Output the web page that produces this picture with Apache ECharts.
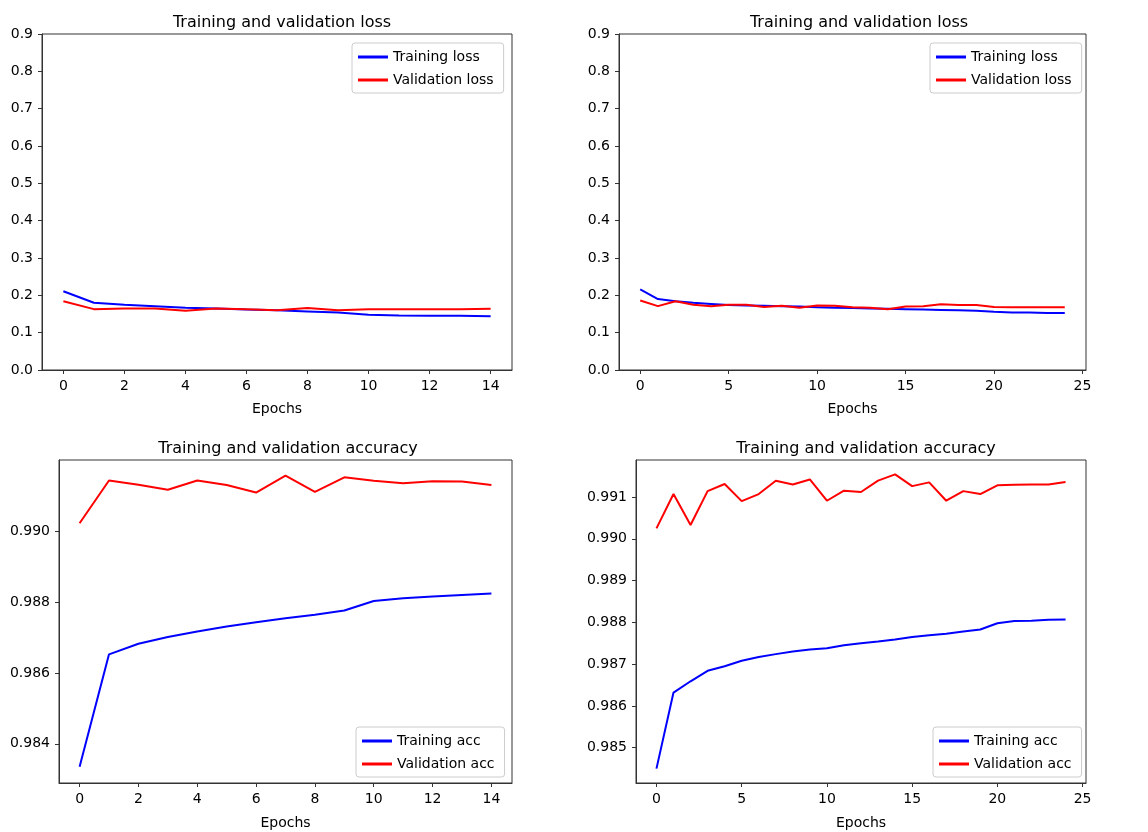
<!DOCTYPE html>
<html>
<head>
<meta charset="utf-8">
<script src="https://cdn.jsdelivr.net/npm/echarts@6/dist/echarts.min.js"></script>
<style>
html, body { margin: 0; padding: 0; background: #fff; }
#main { width: 1148px; height: 832px; }
</style>
</head>
<body>
<div id="main"></div>
<script>
// epochs
var epochs15 = [0,1,2,3,4,5,6,7,8,9,10,11,12,13,14];
var epochs25 = [0,1,2,3,4,5,6,7,8,9,10,11,12,13,14,15,16,17,18,19,20,21,22,23,24];

// loss, 15 epochs
var trainLoss15 = [0.211,0.180,0.175,0.171,0.167,0.165,0.162,0.160,0.157,0.154,0.148,0.146,0.145,0.145,0.144];
var valLoss15   = [0.184,0.163,0.165,0.165,0.159,0.165,0.163,0.160,0.166,0.160,0.163,0.163,0.163,0.163,0.164];

// loss, 25 epochs
var trainLoss25 = [0.216,0.190,0.184,0.180,0.177,0.174,0.173,0.172,0.171,0.170,0.168,0.167,0.166,0.165,0.164,
                   0.163,0.162,0.161,0.160,0.159,0.156,0.154,0.154,0.153,0.153];
var valLoss25   = [0.186,0.171,0.184,0.175,0.171,0.175,0.175,0.169,0.172,0.167,0.173,0.172,0.168,0.167,0.163,
                   0.170,0.171,0.176,0.174,0.174,0.169,0.168,0.168,0.168,0.168];

// accuracy, 15 epochs
var trainAcc15 = [0.98335,0.98653,0.98683,0.98702,0.98718,0.98732,0.98744,0.98755,0.98765,0.98777,
                  0.98804,0.98812,0.98817,0.98821,0.98825];
var valAcc15   = [0.99024,0.99145,0.99133,0.99119,0.99145,0.99132,0.99111,0.99159,0.99113,0.99154,
                  0.99144,0.99137,0.99143,0.99142,0.99132];

// accuracy, 25 epochs
var trainAcc25 = [0.98450,0.98632,0.98659,0.98684,0.98695,0.98708,0.98717,0.98724,0.98730,0.98735,
                  0.98738,0.98745,0.98750,0.98754,0.98759,0.98765,0.98769,0.98773,0.98778,0.98783,
                  0.98798,0.98803,0.98804,0.98806,0.98807];
var valAcc25   = [0.99025,0.99107,0.99033,0.99114,0.99131,0.99090,0.99107,0.99139,0.99130,0.99142,
                  0.99091,0.99115,0.99112,0.99139,0.99154,0.99126,0.99135,0.99091,0.99114,0.99107,
                  0.99128,0.99129,0.99130,0.99130,0.99136];

// tick labels
var xTicks15 = [0,2,4,6,8,10,12,14];
var xTicks25 = [0,5,10,15,20,25];
var lossTicks = [0,0.1,0.2,0.3,0.4,0.5,0.6,0.7,0.8,0.9];
var accTicks15 = [0.984,0.986,0.988,0.990];
var accTicks25 = [0.985,0.986,0.987,0.988,0.989,0.990,0.991];

var FONT = 'DejaVu Sans';

function pairs(xs, ys) {
    return xs.map(function(x, i) { return [x, ys[i]]; });
}

function xAxisCfg(idx, min, max, ticks, gap) {
    return {
        type: 'value', gridIndex: idx, min: min, max: max,
        name: 'Epochs', nameLocation: 'middle', nameGap: gap,
        nameTextStyle: { color: '#000', fontSize: 14, fontFamily: FONT },
        axisLine: { show: true, onZero: false, lineStyle: { color: '#333' } },
        axisTick: { show: true, length: 4, lineStyle: { color: '#333' }, customValues: ticks },
        axisLabel: { color: '#000', fontSize: 14, fontFamily: FONT, margin: 9, customValues: ticks,
                     formatter: function(v) { return String(v); } },
        splitLine: { show: false }
    };
}

function yAxisCfg(idx, min, max, ticks, digits) {
    return {
        type: 'value', gridIndex: idx, min: min, max: max,
        axisLine: { show: true, onZero: false, lineStyle: { color: '#333' } },
        axisTick: { show: true, length: 4, lineStyle: { color: '#333' }, customValues: ticks },
        axisLabel: { color: '#000', fontSize: 14, fontFamily: FONT, margin: 9, customValues: ticks,
                     formatter: function(v) { return v.toFixed(digits); } },
        splitLine: { show: false }
    };
}

function lineSeries(name, idx, data, color) {
    return {
        name: name, type: 'line', xAxisIndex: idx, yAxisIndex: idx,
        data: data, symbol: 'none', animation: false,
        lineStyle: { color: color, width: 2 }, itemStyle: { color: color }
    };
}

function legendCfg(names, left, top) {
    return {
        data: names, orient: 'vertical', left: left, top: top,
        icon: 'rect', itemWidth: 30, itemHeight: 3,
        padding: [7, 10, 6, 6], itemGap: 9,
        borderColor: '#ccc', borderWidth: 1, borderRadius: 3,
        textStyle: { color: '#000', fontSize: 14, fontFamily: FONT },
        selectedMode: false
    };
}

function titleCfg(text, x, y) {
    return {
        text: text, left: x, top: y, textAlign: 'center',
        textStyle: { color: '#000', fontSize: 16, fontWeight: 'normal', fontFamily: FONT }
    };
}

var gridBox = { show: true, borderColor: '#333', borderWidth: 1, backgroundColor: '#fff' };

var dom = document.getElementById('main');
var myChart = echarts.init(dom);
var option = {
    backgroundColor: '#fff',
    animation: false,
    title: [
        titleCfg('Training and validation loss', 277, 10),
        titleCfg('Training and validation loss', 854, 10),
        titleCfg('Training and validation accuracy', 283, 436),
        titleCfg('Training and validation accuracy', 861, 436)
    ],
    grid: [
        Object.assign({ left: 42, top: 34, width: 470, height: 336 }, gridBox),
        Object.assign({ left: 619, top: 34, width: 467, height: 336 }, gridBox),
        Object.assign({ left: 59, top: 460, width: 453, height: 323 }, gridBox),
        Object.assign({ left: 636, top: 460, width: 450, height: 323 }, gridBox)
    ],
    xAxis: [
        xAxisCfg(0, -0.7, 14.7, xTicks15, 32),
        xAxisCfg(1, -1.2, 25.2, xTicks25, 32),
        xAxisCfg(2, -0.7, 14.7, xTicks15, 33),
        xAxisCfg(3, -1.2, 25.2, xTicks25, 33)
    ],
    yAxis: [
        yAxisCfg(0, 0, 0.9, lossTicks, 1),
        yAxisCfg(1, 0, 0.9, lossTicks, 1),
        yAxisCfg(2, 0.98289, 0.99203, accTicks15, 3),
        yAxisCfg(3, 0.984156, 0.991885, accTicks25, 3)
    ],
    legend: [
        legendCfg(['Training loss', 'Validation loss'], 352, 43),
        legendCfg(['Training loss', 'Validation loss'], 930, 43),
        legendCfg(['Training acc', 'Validation acc'], 356, 727),
        legendCfg(['Training acc', 'Validation acc'], 933, 727)
    ],
    series: [
        lineSeries('Training loss', 0, pairs(epochs15, trainLoss15), '#0000ff'),
        lineSeries('Validation loss', 0, pairs(epochs15, valLoss15), '#ff0000'),
        lineSeries('Training loss', 1, pairs(epochs25, trainLoss25), '#0000ff'),
        lineSeries('Validation loss', 1, pairs(epochs25, valLoss25), '#ff0000'),
        lineSeries('Training acc', 2, pairs(epochs15, trainAcc15), '#0000ff'),
        lineSeries('Validation acc', 2, pairs(epochs15, valAcc15), '#ff0000'),
        lineSeries('Training acc', 3, pairs(epochs25, trainAcc25), '#0000ff'),
        lineSeries('Validation acc', 3, pairs(epochs25, valAcc25), '#ff0000')
    ]
};
if (option && typeof option === "object") {
    myChart.setOption(option, true);
}
</script>
</body>
</html>
